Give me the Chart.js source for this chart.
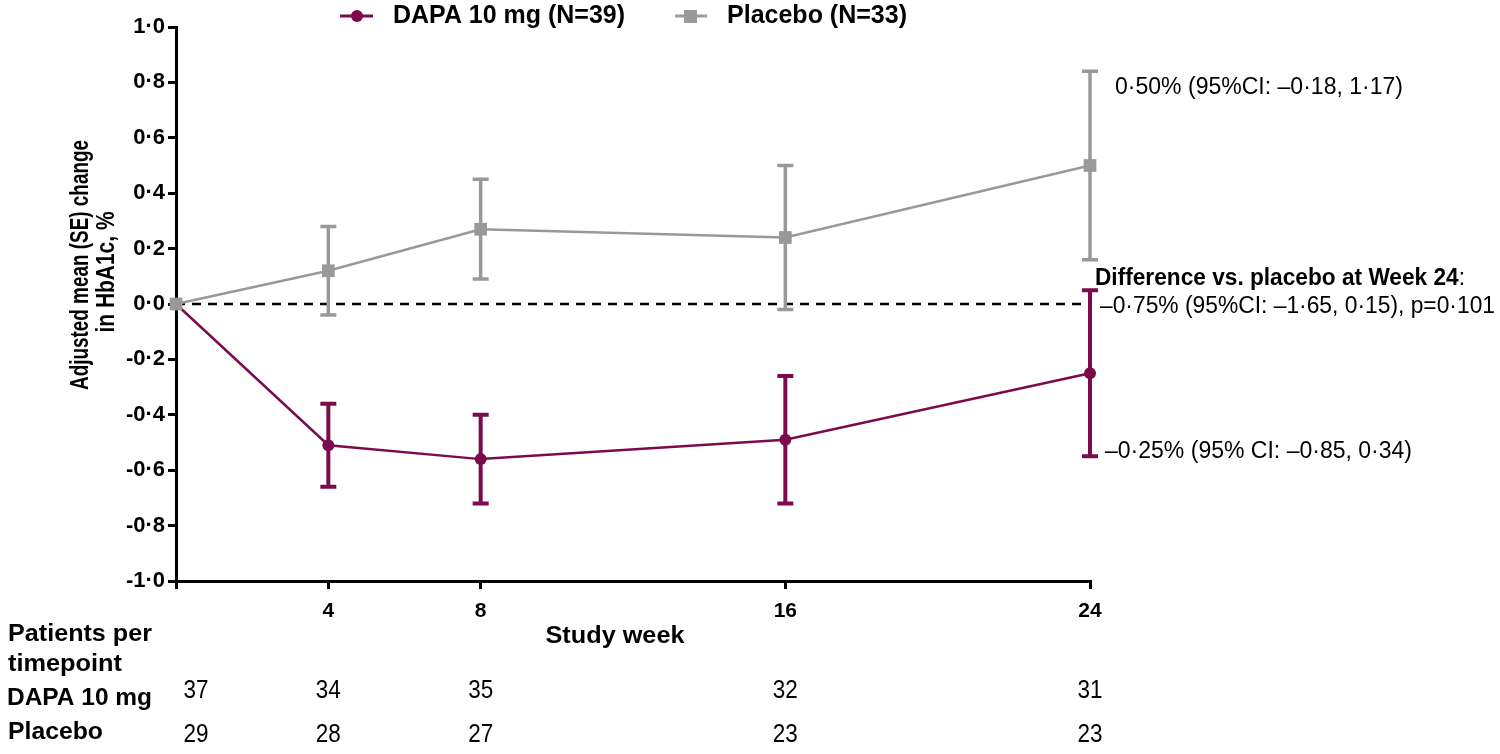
<!DOCTYPE html>
<html>
<head>
<meta charset="utf-8">
<script src="https://cdn.jsdelivr.net/npm/chart.js@4.4.1/dist/chart.umd.min.js"></script>
<style>
  html, body { margin: 0; padding: 0; background: #fff; }
  #wrap { width: 1500px; height: 754px; position: relative; }
</style>
</head>
<body>
<div id="wrap"><canvas id="hba1cChart" width="1500" height="754"></canvas></div>
<script>
// study weeks and adjusted mean change (SE) in HbA1c, %
const weeks = [0, 4, 8, 16, 24];
const dapaMean = [0, -0.51, -0.56, -0.49, -0.25];
const dapaLow = [0, -0.66, -0.72, -0.72, -0.55];
const dapaHigh = [0, -0.36, -0.40, -0.26, 0.05];
const placeboMean = [0, 0.12, 0.27, 0.24, 0.50];
const placeboLow = [0, -0.04, 0.09, -0.02, 0.16];
const placeboHigh = [0, 0.28, 0.45, 0.50, 0.84];

// patients per timepoint
const dapaN = [37, 34, 35, 32, 31];
const placeboN = [29, 28, 27, 23, 23];

const xTicks = [0, 4, 8, 16, 24];
const yTicks = [-1.0, -0.8, -0.6, -0.4, -0.2, 0.0, 0.2, 0.4, 0.6, 0.8, 1.0];

const DAPA_COLOR = '#7b0b4c';
const PLACEBO_COLOR = '#999999';
const FONT = '"Liberation Sans", Arial, sans-serif';

const toXY = (means) => weeks.map((w, i) => ({ x: w, y: means[i] }));
const dot = (v) => v.toFixed(1).replace('.', '·');

// draw text squeezed/stretched to a given width (reference uses a narrow face)
function fitText(ctx, text, x, y, width, align) {
    const w = ctx.measureText(text).width;
    ctx.save();
    ctx.translate(x, y);
    ctx.scale(width / w, 1);
    ctx.textAlign = align || 'left';
    ctx.fillText(text, 0, 0);
    ctx.restore();
}

// error bars, legend, annotations and the patients table
const extrasPlugin = {
    id: 'extras',
    afterDatasetsDraw(chart) {
        const ctx = chart.ctx;
        const xs = chart.scales.x;
        const ys = chart.scales.y;

        const drawBars = (low, high, color, width) => {
            ctx.save();
            ctx.strokeStyle = color;
            ctx.lineWidth = width;
            weeks.forEach((w, i) => {
                if (low[i] === high[i]) return;
                const px = xs.getPixelForValue(w);
                const y1 = ys.getPixelForValue(low[i]);
                const y2 = ys.getPixelForValue(high[i]);
                ctx.beginPath();
                ctx.moveTo(px, y1); ctx.lineTo(px, y2);
                ctx.moveTo(px - 8, y1); ctx.lineTo(px + 8, y1);
                ctx.moveTo(px - 8, y2); ctx.lineTo(px + 8, y2);
                ctx.stroke();
            });
            ctx.restore();
        };
        drawBars(placeboLow, placeboHigh, PLACEBO_COLOR, 3.5);
        drawBars(dapaLow, dapaHigh, DAPA_COLOR, 4);

        ctx.save();
        ctx.fillStyle = '#000';
        ctx.textBaseline = 'middle';

        // legend
        const legendY = 16;
        ctx.strokeStyle = DAPA_COLOR; ctx.lineWidth = 3;
        ctx.beginPath(); ctx.moveTo(340, legendY); ctx.lineTo(373, legendY); ctx.stroke();
        ctx.fillStyle = DAPA_COLOR;
        ctx.beginPath(); ctx.arc(357, legendY, 6, 0, Math.PI * 2); ctx.fill();
        ctx.strokeStyle = PLACEBO_COLOR;
        ctx.beginPath(); ctx.moveTo(675, legendY); ctx.lineTo(707, legendY); ctx.stroke();
        ctx.fillStyle = PLACEBO_COLOR;
        ctx.fillRect(684, legendY - 6, 13, 13);
        ctx.fillStyle = '#000';
        ctx.font = 'bold 25px ' + FONT;
        fitText(ctx, 'DAPA 10 mg (N=39)', 393, legendY, 232);
        fitText(ctx, 'Placebo (N=33)', 727, legendY, 180);

        // y axis title
        ctx.font = 'bold 25px ' + FONT;
        ctx.save();
        ctx.translate(81, 265);
        ctx.rotate(-Math.PI / 2);
        fitText(ctx, 'Adjusted mean (SE) change', 0, 0, 250, 'center');
        ctx.restore();
        ctx.save();
        ctx.translate(107, 272);
        ctx.rotate(-Math.PI / 2);
        fitText(ctx, 'in HbA1c, %', 0, 0, 121, 'center');
        ctx.restore();

        // annotations at week 24
        ctx.font = '23px ' + FONT;
        fitText(ctx, '0·50% (95%CI: –0·18, 1·17)', 1115, 88, 288);
        const head = 'Difference vs. placebo at Week 24';
        ctx.font = 'bold 23px ' + FONT;
        const hw = ctx.measureText(head).width;
        ctx.font = '23px ' + FONT;
        const cw = ctx.measureText(':').width;
        const hs = 370 / (hw + cw);
        ctx.save();
        ctx.translate(1095, 279);
        ctx.scale(hs, 1);
        ctx.textAlign = 'left';
        ctx.font = 'bold 23px ' + FONT;
        ctx.fillText(head, 0, 0);
        ctx.font = '23px ' + FONT;
        ctx.fillText(':', hw, 0);
        ctx.restore();
        fitText(ctx, '–0·75% (95%CI: –1·65, 0·15), p=0·101', 1100, 307, 395);
        fitText(ctx, '–0·25% (95% CI: –0·85, 0·34)', 1105, 452, 307);

        // x axis title
        ctx.font = 'bold 24px ' + FONT;
        fitText(ctx, 'Study week', 615, 636, 139, 'center');

        // patients per timepoint table
        ctx.font = 'bold 24px ' + FONT;
        fitText(ctx, 'Patients per', 8, 634, 144);
        fitText(ctx, 'timepoint', 8, 664, 114);
        fitText(ctx, 'DAPA 10 mg', 7, 698, 145);
        fitText(ctx, 'Placebo', 8, 732, 95);
        ctx.font = '26px ' + FONT;
        weeks.forEach((w, i) => {
            const px = xs.getPixelForValue(w) + (w === 0 ? 20 : 0);
            fitText(ctx, String(dapaN[i]), px, 691, 25, 'center');
            fitText(ctx, String(placeboN[i]), px, 735, 25, 'center');
        });
        ctx.restore();
    }
};

new Chart(document.getElementById('hba1cChart'), {
    type: 'line',
    data: {
        datasets: [
            {
                label: 'Reference',
                data: [{ x: 0, y: 0 }, { x: 24, y: 0 }],
                borderColor: '#000',
                borderWidth: 2.5,
                borderDash: [9, 7],
                pointRadius: 0,
                order: 3
            },
            {
                label: 'DAPA 10 mg (N=39)',
                data: toXY(dapaMean),
                borderColor: DAPA_COLOR,
                backgroundColor: DAPA_COLOR,
                borderWidth: 2.5,
                pointStyle: 'circle',
                pointRadius: 6,
                pointBorderWidth: 0,
                clip: false,
                order: 2
            },
            {
                label: 'Placebo (N=33)',
                data: toXY(placeboMean),
                borderColor: PLACEBO_COLOR,
                backgroundColor: PLACEBO_COLOR,
                borderWidth: 2.5,
                pointStyle: 'rect',
                pointRadius: 9,
                pointBorderWidth: 0,
                clip: false,
                order: 1
            }
        ]
    },
    options: {
        responsive: false,
        animation: false,
        layout: { padding: { left: 0, right: 410, top: 27, bottom: 0 } },
        plugins: {
            legend: { display: false },
            tooltip: { enabled: false }
        },
        scales: {
            x: {
                type: 'linear',
                min: 0,
                max: 24,
                afterBuildTicks: (s) => { s.ticks = xTicks.map(v => ({ value: v })); },
                afterFit: (s) => { s.height = 173; },
                border: { display: true, color: '#000', width: 3 },
                grid: { drawOnChartArea: false, drawTicks: true, tickLength: 8, color: '#000', lineWidth: 3 },
                ticks: {
                    color: '#000',
                    font: { family: FONT, size: 21, weight: 'bold' },
                    padding: 10,
                    maxRotation: 0,
                    callback: (v) => (v === 0 ? '' : String(v))
                }
            },
            y: {
                min: -1,
                max: 1,
                afterBuildTicks: (s) => { s.ticks = yTicks.map(v => ({ value: v })); },
                afterFit: (s) => { s.width = 176; },
                border: { display: true, color: '#000', width: 3 },
                grid: { drawOnChartArea: false, drawTicks: true, tickLength: 8, color: '#000', lineWidth: 3 },
                ticks: {
                    color: '#000',
                    font: { family: FONT, size: 22, weight: 'bold' },
                    padding: 3,
                    callback: (v) => dot(v)
                }
            }
        }
    },
    plugins: [extrasPlugin]
});
</script>
</body>
</html>
